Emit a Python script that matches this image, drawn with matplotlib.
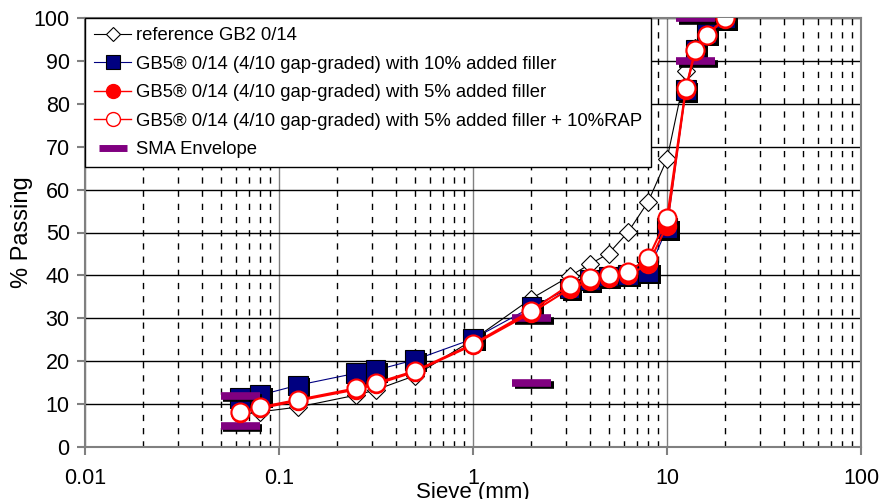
import matplotlib
matplotlib.use("Agg")
import matplotlib.pyplot as plt
import matplotlib.patheffects as pe
from matplotlib.lines import Line2D
from matplotlib.ticker import LogLocator, NullFormatter

plt.rcParams['font.family'] = ['Liberation Sans', 'DejaVu Sans']

# sieve sizes (mm)
sieves = [0.063, 0.08, 0.125, 0.25, 0.315, 0.5, 1, 2, 3.15, 4, 5, 6.3, 8, 10, 12.5, 14, 16, 20]

ref_gb2 = [7.5, 8.2, 9.3, 12.1, 13.3, 16.6, 25.0, 34.6, 39.8, 42.6, 45.1, 50.1, 57.2, 67.1, 87.7, 93.0, 97.0, 100]
gb5_10 = [11.4, 12.1, 14.4, 17.2, 17.9, 20.3, 25.2, 32.6, 37.0, 38.9, 39.7, 40.1, 40.8, 51.0, 83.2, 92.5, 96.5, 100]
gb5_5 = [8.0, 9.0, 10.8, 13.4, 14.6, 17.5, 23.8, 31.3, 36.9, 38.6, 39.4, 40.0, 42.6, 51.6, 83.3, 92.4, 96.0, 99.8]
gb5_5_rap = [8.2, 9.3, 11.0, 13.7, 14.9, 17.7, 24.0, 31.8, 37.8, 39.3, 40.1, 40.8, 44.0, 53.3, 83.6, 92.6, 96.1, 100]

# SMA envelope limits
env_sieves = [0.063, 0.063, 2, 2, 14, 14]
env_values = [5, 12, 15, 30, 90, 100]

labels = ["reference GB2 0/14",
          "GB5\u00ae 0/14 (4/10 gap-graded) with 10% added filler",
          "GB5\u00ae 0/14 (4/10 gap-graded) with 5% added filler",
          "GB5\u00ae 0/14 (4/10 gap-graded) with 5% added filler + 10%RAP",
          "SMA Envelope"]

navy = "#000080"
purple = "#800080"

fig = plt.figure(figsize=(8.85, 4.99), dpi=100)
ax = fig.add_axes([85 / 885, 52 / 499, 776 / 885, 429 / 499])

sq_shadow = [pe.SimplePatchShadow(offset=(2, -2), shadow_rgbFace='black', alpha=1), pe.Normal()]
bar_shadow = [pe.SimpleLineShadow(offset=(2, -2), shadow_color='black', alpha=1), pe.Normal()]

ax.plot(sieves, ref_gb2, color='black', lw=0.8, marker='D', ms=9, mfc='white', mec='black', mew=0.8, zorder=3)
ax.plot(sieves, gb5_10, color=navy, lw=0.8, zorder=4)
ax.plot(sieves, gb5_10, ls='none', marker='s', ms=14, mfc=navy, mec='black', mew=0.8, zorder=4,
        path_effects=sq_shadow)
ax.plot(env_sieves, env_values, ls='none', marker='_', ms=28, mew=5.5, color=purple, zorder=5,
        path_effects=bar_shadow)
ax.plot(sieves, gb5_5, color='red', lw=1.5, marker='o', ms=13, mfc='red', mec='red', mew=1, zorder=6)
ax.plot(sieves, gb5_5_rap, color='red', lw=1.5, marker='o', ms=13, mfc='white', mec='red', mew=1.5, zorder=7)

ax.set_xscale('log')
ax.set_xlim(0.01, 100)
ax.set_ylim(0, 100)
ax.set_yticks(range(0, 101, 10))
ax.xaxis.set_minor_locator(LogLocator(base=10, subs=range(2, 10), numticks=20))
ax.xaxis.set_minor_formatter(NullFormatter())
ax.set_xticks([0.01, 0.1, 1, 10, 100])
ax.set_xticklabels(["0.01", "0.1", "1", "10", "100"])

ax.grid(axis='y', which='major', color='black', lw=1)
ax.grid(axis='x', which='major', color='#808080', lw=1)
ax.grid(axis='x', which='minor', color='black', lw=1, ls=(0, (4.5, 5)))
ax.set_axisbelow(True)

for s in ax.spines.values():
    s.set_color('#808080')
    s.set_linewidth(1.5)
ax.tick_params(axis='both', which='major', direction='out', length=6, width=1.5, color='#808080',
               labelsize=15.5, pad=5)
ax.tick_params(axis='x', which='major', pad=9)
ax.tick_params(axis='x', which='minor', length=0)

ax.set_xlabel("Sieve (mm)", fontsize=16)
ax.xaxis.set_label_coords(0.5, -0.081)
ax.set_ylabel("% Passing", fontsize=17)
ax.yaxis.set_label_coords(-0.067, 0.5)

handles = [
    Line2D([], [], color='black', lw=0.8, marker='D', ms=7, mfc='white', mec='black', mew=0.8),
    Line2D([], [], color=navy, lw=0.8, marker='s', ms=10, mfc=navy, mec='black', mew=0.8),
    Line2D([], [], color='red', lw=1, marker='o', ms=10, mfc='red', mec='red'),
    Line2D([], [], color='red', lw=1, marker='o', ms=10, mfc='white', mec='red'),
    Line2D([], [], ls='none', marker='_', ms=20, mew=5, color=purple),
]
leg = ax.legend(handles, labels, loc='upper left', bbox_to_anchor=(0, 1), borderaxespad=0,
                fontsize=13.3, frameon=True, fancybox=False, framealpha=1, edgecolor='black',
                handlelength=2.0, handletextpad=0.25, labelspacing=0.62, borderpad=0.5)
leg.get_frame().set_linewidth(1)
leg.set_zorder(10)

fig.savefig("out.png", dpi=100)
